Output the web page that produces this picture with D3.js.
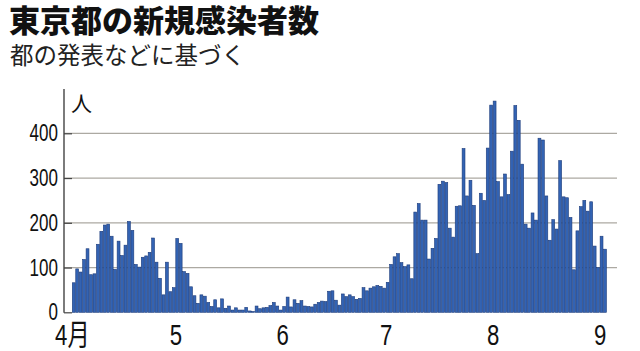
<!DOCTYPE html>
<html>
<head>
<meta charset="utf-8">
<script src="https://cdn.jsdelivr.net/npm/d3@7"></script>
<style>
  body { margin: 0; background: #fff; }
  svg { display: block; }
</style>
</head>
<body>
<div id="chart"></div>
<script>
// daily new cases, Tokyo, from Apr 1 to Sep 2
var april = [66, 97, 90, 118, 142, 84, 86, 152, 181, 195, 197, 170, 96, 159, 127, 150, 203, 183, 107, 101,
             123, 126, 134, 166, 112, 76, 39, 112, 46, 55];
var may = [165, 154, 91, 87, 57, 37, 20, 39, 36, 22, 13, 28, 10, 30, 9, 14, 5, 10, 5, 5,
           11, 3, 2, 14, 8, 10, 11, 15, 22, 14, 5];
var june = [13, 34, 12, 28, 20, 26, 14, 13, 12, 18, 22, 25, 24, 47, 48, 27, 16, 41, 35, 39,
            35, 29, 31, 55, 48, 54, 57, 60, 58, 54];
var july = [67, 107, 124, 131, 111, 102, 106, 75, 224, 243, 206, 206, 119, 143, 165, 286, 293, 290, 188, 168,
            237, 238, 366, 260, 295, 239, 131, 266, 250, 367, 463];
var august = [472, 292, 258, 309, 263, 360, 462, 429, 331, 197, 188, 222, 206, 389, 385, 260, 161, 207, 186, 339,
              258, 256, 212, 95, 182, 236, 250, 226, 247, 148, 100];
var september = [170, 141];

var monthLabels = ["4月", "5", "6", "7", "8", "9"];
var yTicks = [0, 100, 200, 300, 400];

var values = april.concat(may, june, july, august, september);
var days = d3.timeDay.range(new Date(2020, 3, 1), new Date(2020, 8, 1 + september.length));
var data = days.map(function (d, i) { return { date: d, value: values[i] }; });
var monthStarts = d3.timeMonth.range(new Date(2020, 3, 1), new Date(2020, 8, 2));

var width = 640, height = 351;

var svg = d3.select("#chart")
    .append("svg")
    .attr("width", width)
    .attr("height", height);

// title
svg.append("text")
    .attr("x", 9)
    .attr("y", 32)
    .style("font-family", "'Noto Sans CJK JP'")
    .style("font-weight", 900)
    .style("font-size", "31px")
    .style("fill", "#111")
    .text("東京都の新規感染者数");

svg.append("text")
    .attr("x", 10)
    .attr("y", 64)
    .style("font-family", "'Noto Sans CJK JP'")
    .style("font-size", "23.5px")
    .style("fill", "#222")
    .text("都の発表などに基づく");

// scales
var x = d3.scaleBand()
    .domain(days)
    .range([72.3, 72.3 + days.length * 3.446])
    .paddingInner(0.17)
    .paddingOuter(0);

var y = d3.scaleLinear()
    .domain([0, 400])
    .range([312.3, 133.3]);

// grid lines
svg.append("g")
    .selectAll("line")
    .data(yTicks.slice(1))
    .enter()
    .append("line")
    .attr("x1", 64)
    .attr("x2", 617)
    .attr("y1", function (d) { return y(d); })
    .attr("y2", function (d) { return y(d); })
    .style("stroke", "#aca9a2")
    .style("stroke-width", 1.2);

// bars
svg.append("g")
    .selectAll("rect")
    .data(data)
    .enter()
    .append("rect")
    .attr("x", function (d) { return x(d.date); })
    .attr("y", function (d) { return y(d.value); })
    .attr("width", x.bandwidth())
    .attr("height", function (d) { return y(0) - y(d.value); })
    .style("fill", "#3363b3")
    .style("stroke", "#1c3b7a")
    .style("stroke-width", 0.6);

// y axis
var yAxis = svg.append("g")
    .attr("transform", "translate(64,0)")
    .call(d3.axisRight(y).tickValues(yTicks).tickSize(8).tickFormat(""));
yAxis.select(".domain").remove();
yAxis.selectAll("line").style("stroke", "#444").style("stroke-width", 1.2);

svg.append("line")
    .attr("x1", 64).attr("x2", 64)
    .attr("y1", 89).attr("y2", y(0) + 0.5)
    .style("stroke", "#444")
    .style("stroke-width", 1.4);

svg.append("g")
    .selectAll("text")
    .data(yTicks)
    .enter()
    .append("text")
    .attr("transform", function (d) { return "translate(58," + (y(d) + 8) + ") scale(0.74,1)"; })
    .attr("text-anchor", "end")
    .style("font-family", "'Liberation Sans', Arial, sans-serif")
    .style("font-size", "23px")
    .style("fill", "#111")
    .text(function (d) { return d; });

// unit
svg.append("text")
    .attr("x", 71)
    .attr("y", 111)
    .style("font-family", "'Noto Sans CJK JP'")
    .style("font-size", "21px")
    .style("fill", "#111")
    .text("人");

// month labels
svg.append("g")
    .selectAll("text")
    .data(monthStarts)
    .enter()
    .append("text")
    .attr("transform", function (d) { return "translate(" + x(d) + ",345) scale(0.74,1)"; })
    .attr("text-anchor", "middle")
    .style("font-family", "'Liberation Sans', Arial, 'Noto Sans CJK JP', sans-serif")
    .style("font-size", "30px")
    .style("fill", "#111")
    .text(function (d, i) { return monthLabels[i]; });
</script>
</body>
</html>
